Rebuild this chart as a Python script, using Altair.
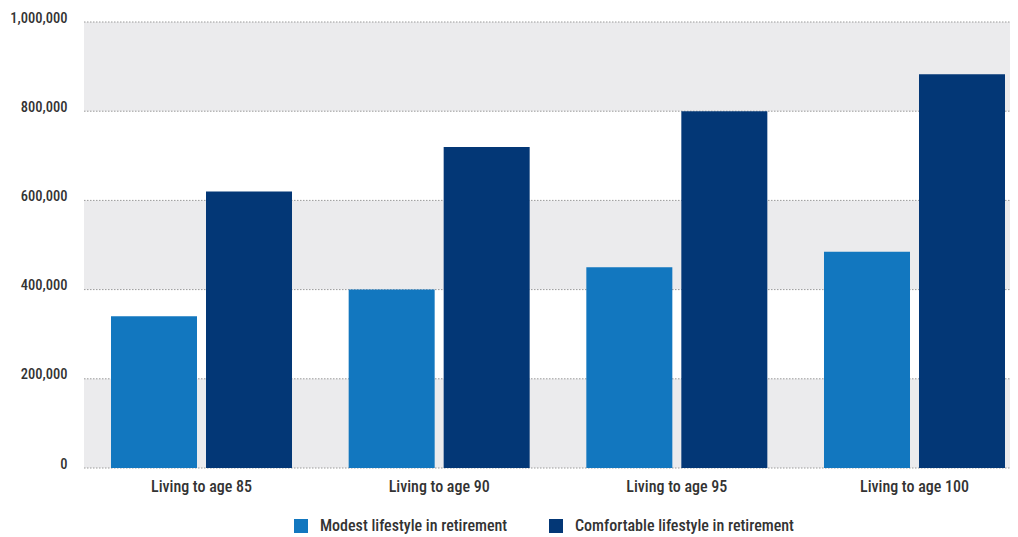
import altair as alt
import pandas as pd

groups = ["Living to age 85", "Living to age 90", "Living to age 95", "Living to age 100"]
series = ["Modest lifestyle in retirement", "Comfortable lifestyle in retirement"]
modest = [340000, 400000, 450000, 485000]
comfortable = [620000, 720000, 800000, 883000]
band_lo = [0, 400000, 800000]
band_hi = [200000, 600000, 1000000]
y_ticks = [0, 200000, 400000, 600000, 800000, 1000000]
colors = ["#1277BF", "#033776"]

rows = []
for g, m, c in zip(groups, modest, comfortable):
    rows.append({"group": g, "series": series[0], "value": m})
    rows.append({"group": g, "series": series[1], "value": c})
df = pd.DataFrame(rows)
bands = pd.DataFrame({"lo": band_lo, "hi": band_hi})
ticks = pd.DataFrame({"t": y_ticks})

FONT = "Roboto Condensed"
W = 926
H = 446
yscale = alt.Scale(domain=[0, 1000000], nice=False, zero=True)

bg = alt.Chart(bands).mark_rect(color="#EBEBED").encode(
    y=alt.Y(
        "lo:Q",
        scale=yscale,
        axis=alt.Axis(
            title=None, values=y_ticks, format=",d", grid=False, domain=False, ticks=False,
            labelPadding=17, labelBaseline="alphabetic", labelFont=FONT, labelFontSize=14.5,
            labelFontWeight=500, labelColor="#333333",
        ),
    ),
    y2="hi:Q",
    x=alt.value(0),
    x2=alt.value(W),
)

rules = alt.Chart(ticks).mark_rule(color="#9a9a9a", strokeDash=[1.5, 1.5], strokeWidth=1).encode(
    y=alt.Y("t:Q", scale=yscale),
    x=alt.value(0),
    x2=alt.value(W),
)

bars = alt.Chart(df).mark_bar().encode(
    x=alt.X(
        "group:N",
        sort=groups,
        scale=alt.Scale(range=[0, 948], paddingInner=0.2384, paddingOuter=0.1136),
        axis=alt.Axis(
            title=None, labelAngle=0, domain=False, ticks=False, labelPadding=10,
            labelFont=FONT, labelFontSize=16, labelFontWeight=500, labelColor="#333333",
        ),
    ),
    xOffset=alt.XOffset("series:N", sort=series, scale=alt.Scale(paddingInner=0.0947, paddingOuter=0)),
    y=alt.Y("value:Q", scale=yscale),
    color=alt.Color(
        "series:N",
        sort=series,
        scale=alt.Scale(domain=series, range=colors),
        legend=alt.Legend(
            title=None, orient="none", legendX=209, legendY=496, direction="horizontal",
            symbolType="square", symbolSize=196, symbolStrokeWidth=0, labelFont=FONT,
            labelFontSize=16, labelFontWeight=500, labelColor="#333333", columnPadding=40,
            labelOffset=11, labelLimit=0,
        ),
    ),
)

chart = alt.layer(bg, rules, bars).properties(
    width=W,
    height=H,
    autosize=alt.AutoSizeParams(type="none"),
    padding={"left": 76, "top": 14, "right": 0, "bottom": 69},
).configure_view(stroke=None)

chart.save("out.html", embed_options={"renderer": "svg", "actions": False})
